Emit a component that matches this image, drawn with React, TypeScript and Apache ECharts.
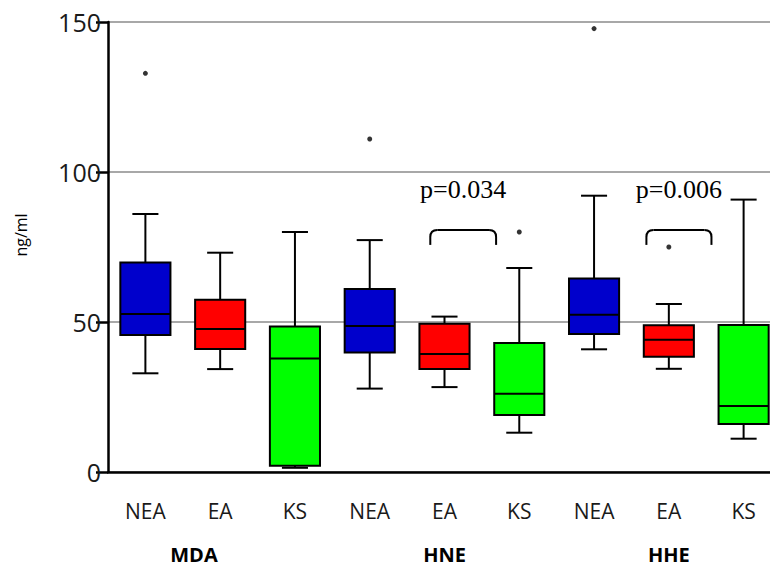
import React, { useEffect, useRef } from "react";
import * as echarts from "echarts";

// ---- data ----
const categories = ["NEA", "EA", "KS", "NEA", "EA", "KS", "NEA", "EA", "KS"];
const groupLabels = ["MDA", "HNE", "HHE"];
const whiskerLow = [32.9, 34.3, 1.4, 27.8, 28.3, 13.1, 40.9, 34.4, 11.1];
const q1 = [45.7, 41.0, 2.1, 39.8, 34.3, 19.0, 46.0, 38.4, 16.0];
const median = [52.7, 47.7, 37.8, 48.7, 39.3, 26.1, 52.4, 44.1, 22.0];
const q3 = [69.8, 57.4, 48.5, 61.0, 49.4, 43.0, 64.5, 48.9, 49.0];
const whiskerHigh = [86.0, 73.1, 80.0, 77.3, 51.8, 68.0, 92.1, 56.0, 90.8];
// [category index, value]
const outliers = [
  [0, 132.9],
  [3, 111.0],
  [5, 80.0],
  [6, 147.8],
  [7, 75.0],
];
const pLabels = ["p=0.034", "p=0.006"];
const yTicks = [0, 50, 100, 150];

// ---- styles / layout ----
const typeColor: Record<string, string> = {
  NEA: "#0000CC",
  EA: "#FF0000",
  KS: "#00FF00",
};
const groupPos = [0.65, 4, 7];
const bracketSpans = [
  [3.81, 4.69],
  [6.7, 7.57],
];
const bracketTop = 80.7;
const bracketDrop = 5;
const pTextValue = 94.3;

export default function App() {
  const ref = useRef<HTMLDivElement>(null);

  useEffect(() => {
    document.body.style.margin = "0";
    if (!ref.current) return;
    const chart = echarts.init(ref.current, undefined, { renderer: "svg" });

    const boxData = categories.map((c, i) => [
      i,
      whiskerLow[i],
      q1[i],
      median[i],
      q3[i],
      whiskerHigh[i],
    ]);

    chart.setOption({
      animation: false,
      grid: { left: 108, right: 0, top: 22, bottom: 97 },
      xAxis: {
        type: "category",
        data: categories,
        axisLine: { lineStyle: { color: "#000", width: 2.5 } },
        axisTick: {
          alignWithLabel: true,
          length: 13,
          lineStyle: { color: "#000", width: 2.5 },
        },
        axisLabel: {
          fontFamily: "Open Sans",
          fontSize: 21,
          color: "#1a1a1a",
          margin: 28,
        },
        splitLine: { show: false },
      },
      yAxis: {
        type: "value",
        min: yTicks[0],
        max: yTicks[yTicks.length - 1],
        interval: 50,
        axisLine: { show: true, lineStyle: { color: "#000", width: 2.5 } },
        axisTick: { show: true, length: 12, lineStyle: { color: "#000", width: 2.5 } },
        axisLabel: {
          fontFamily: "Open Sans",
          fontSize: 25,
          color: "#1a1a1a",
          margin: 7,
        },
        splitLine: { lineStyle: { color: "#a8a8a8", width: 2 } },
      },
      series: [
        {
          type: "custom",
          data: boxData,
          encode: { x: 0, y: [1, 2, 3, 4, 5] },
          renderItem: (params: any, api: any) => {
            const i = params.dataIndex;
            const band = api.size([1, 0])[0];
            const bw = band * 0.67;
            const cw = bw * 0.52;
            const cx = api.coord([i, api.value(1)])[0];
            const yLow = api.coord([i, api.value(1)])[1];
            const yQ1 = api.coord([i, api.value(2)])[1];
            const yMed = api.coord([i, api.value(3)])[1];
            const yQ3 = api.coord([i, api.value(4)])[1];
            const yHigh = api.coord([i, api.value(5)])[1];
            const st = { stroke: "#000", lineWidth: 2 };
            return {
              type: "group",
              children: [
                { type: "line", shape: { x1: cx, y1: yQ3, x2: cx, y2: yHigh }, style: st },
                { type: "line", shape: { x1: cx, y1: yQ1, x2: cx, y2: yLow }, style: st },
                { type: "line", shape: { x1: cx - cw / 2, y1: yHigh, x2: cx + cw / 2, y2: yHigh }, style: st },
                { type: "line", shape: { x1: cx - cw / 2, y1: yLow, x2: cx + cw / 2, y2: yLow }, style: st },
                {
                  type: "rect",
                  shape: { x: cx - bw / 2, y: yQ3, width: bw, height: yQ1 - yQ3 },
                  style: { fill: typeColor[categories[i]], stroke: "#000", lineWidth: 2 },
                },
                { type: "line", shape: { x1: cx - bw / 2, y1: yMed, x2: cx + bw / 2, y2: yMed }, style: st },
              ],
            };
          },
        },
        {
          type: "scatter",
          data: outliers,
          symbol: "circle",
          symbolSize: 5,
          itemStyle: { color: "#000" },
        },
      ],
    });

    const px = (f: number, v: number) => {
      const i0 = Math.floor(f);
      const a = chart.convertToPixel({ gridIndex: 0 }, [i0, v]) as number[];
      const b = chart.convertToPixel({ gridIndex: 0 }, [i0 + 1, v]) as number[];
      return [a[0] + (b[0] - a[0]) * (f - i0), a[1]];
    };

    const graphics: any[] = [];
    groupLabels.forEach((g, k) => {
      const p = px(groupPos[k], 0);
      graphics.push({
        type: "text",
        x: p[0],
        y: 554.5,
        style: {
          text: g,
          fontFamily: "Open Sans",
          fontWeight: "bold",
          fontSize: 20,
          fill: "#000",
          align: "center",
          verticalAlign: "middle",
        },
      });
    });
    bracketSpans.forEach((s, k) => {
      const [x1, yt] = px(s[0], bracketTop);
      const [x2] = px(s[1], bracketTop);
      const yb = px(s[0], bracketTop - bracketDrop)[1];
      const r = 7;
      const st = { stroke: "#000", lineWidth: 2, fill: "none" };
      graphics.push({
        type: "group",
        children: [
          { type: "line", shape: { x1: x1, y1: yb, x2: x1, y2: yt + r }, style: st },
          { type: "bezierCurve", shape: { x1: x1, y1: yt + r, cpx1: x1, cpy1: yt, x2: x1 + r, y2: yt }, style: st },
          { type: "line", shape: { x1: x1 + r, y1: yt, x2: x2 - r, y2: yt }, style: st },
          { type: "bezierCurve", shape: { x1: x2 - r, y1: yt, cpx1: x2, cpy1: yt, x2: x2, y2: yt + r }, style: st },
          { type: "line", shape: { x1: x2, y1: yt + r, x2: x2, y2: yb }, style: st },
        ],
      });
      const tp = px((s[0] + s[1]) / 2, pTextValue);
      graphics.push({
        type: "text",
        x: tp[0],
        y: tp[1],
        style: {
          text: pLabels[k],
          fontFamily: "Liberation Serif",
          fontSize: 26,
          fill: "#000",
          align: "center",
          verticalAlign: "middle",
        },
      });
    });
    graphics.push({
      type: "text",
      x: 21,
      y: 235,
      rotation: Math.PI / 2,
      style: {
        text: "ng/ml",
        fontFamily: "Open Sans",
        fontSize: 16,
        fill: "#000",
        align: "center",
        verticalAlign: "middle",
      },
    });

    chart.setOption({ graphic: graphics });

    return () => chart.dispose();
  }, []);

  return (
    <div style={{ width: 770, height: 569, overflow: "hidden", position: "relative" }}>
      <div ref={ref} style={{ width: 781, height: 569 }} />
    </div>
  );
}
